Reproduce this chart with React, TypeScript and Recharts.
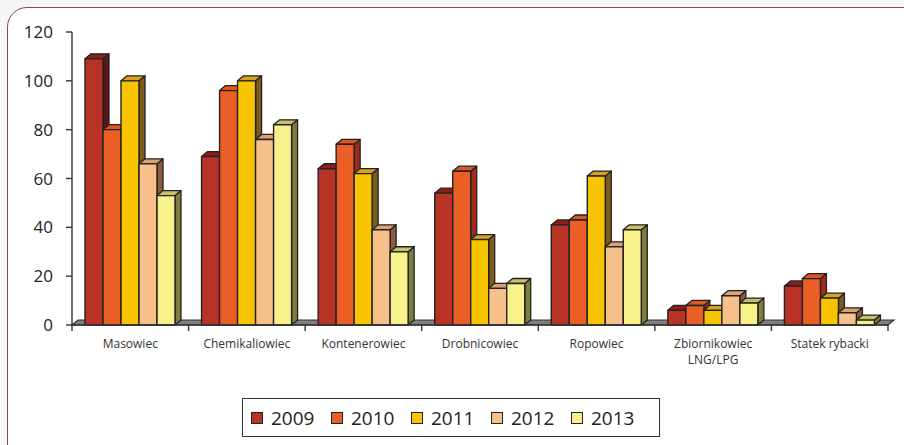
import React from 'react';
import { BarChart, Bar, XAxis, YAxis, ReferenceArea } from 'recharts';

// Ship categories (line breaks mark wrapped labels)
const CATEGORIES = [
  'Masowiec',
  'Chemikaliowiec',
  'Kontenerowiec',
  'Drobnicowiec',
  'Ropowiec',
  'Zbiornikowiec\nLNG/LPG',
  'Statek rybacki',
];

// Values per year
const Y2009 = [109, 69, 64, 54, 41, 6, 16];
const Y2010 = [80, 96, 74, 63, 43, 8, 19];
const Y2011 = [100, 100, 62, 35, 61, 6, 11];
const Y2012 = [66, 76, 39, 15, 32, 12, 5];
const Y2013 = [53, 82, 30, 17, 39, 9, 2];

const YEARS = ['2009', '2010', '2011', '2012', '2013'];
const SERIES = [Y2009, Y2010, Y2011, Y2012, Y2013];

const Y_TICKS = [0, 20, 40, 60, 80, 100, 120];

// Face colours of the 3D boxes: front, top, side
const FRONT = ['#b93226', '#e95f25', '#f8c300', '#f7bf89', '#f8f08a'];
const TOP = ['#8c1f18', '#e0561e', '#d9a21c', '#dea06e', '#c9c262'];
const SIDE = ['#5c1612', '#a02a18', '#7d5a1e', '#8e5c3a', '#7f7d3e'];

const data = CATEGORIES.map((name, i) => {
  const row: Record<string, string | number> = { name };
  YEARS.forEach((y, s) => {
    row[y] = SERIES[s][i];
  });
  return row;
});

const FONT = "'Open Sans', 'Noto Sans', sans-serif";
const DX = 6;
const DY = 5;
const EDGE = '#222';

function makeBox(s: number) {
  return (props: any) => {
    const { x, y, width, height } = props;
    if (width == null || height == null) return <g />;
    const x2 = x + width;
    const y2 = y + height;
    return (
      <g strokeLinejoin="round">
        <polygon
          points={`${x2},${y} ${x2 + DX},${y - DY} ${x2 + DX},${y2 - DY} ${x2},${y2}`}
          fill={SIDE[s]}
          stroke={EDGE}
          strokeWidth={1.3}
        />
        <polygon
          points={`${x},${y} ${x + DX},${y - DY} ${x2 + DX},${y - DY} ${x2},${y}`}
          fill={TOP[s]}
          stroke={EDGE}
          strokeWidth={1.3}
        />
        <rect x={x} y={y} width={width} height={height} fill={FRONT[s]} stroke={EDGE} strokeWidth={1.4} />
      </g>
    );
  };
}

function Floor(props: any) {
  const { x, y, width, height } = props;
  const y0 = y + (height || 0);
  return (
    <polygon
      points={`${x},${y0} ${x + DX},${y0 - DY} ${x + width + DX},${y0 - DY} ${x + width},${y0}`}
      fill="#7f7f7f"
      stroke="#333"
      strokeWidth={1.2}
    />
  );
}

function CategoryTick(props: any) {
  const { x, y, payload, index } = props;
  const half = payload && payload.offset > 0 ? payload.offset : (888 - 72) / 14;
  const lines = String(payload.value).split('\n');
  return (
    <g>
      <line x1={x + half} x2={x + half} y1={y} y2={y + 6} stroke="#333" strokeWidth={1.4} />
      {index === 0 && <line x1={x - half} x2={x - half} y1={y} y2={y + 6} stroke="#333" strokeWidth={1.4} />}
      <text x={x} y={y} textAnchor="middle" fill="#333" fontSize={12} fontFamily={FONT}>
        {lines.map((l, i) => (
          <tspan key={i} x={x} dy={i === 0 ? 23 : 16}>
            {l}
          </tspan>
        ))}
      </text>
    </g>
  );
}

export default function App() {
  return (
    <div
      style={{
        position: 'absolute',
        left: 0,
        top: 0,
        width: 904,
        height: 445,
        overflow: 'hidden',
        background: '#f3f5f7',
        fontFamily: FONT,
      }}
    >
      <div
        style={{
          position: 'absolute',
          left: 7,
          top: 7,
          width: 920,
          height: 460,
          border: '1.5px solid #8a4a48',
          borderRadius: 20,
          background: '#fff',
        }}
      />
      <div style={{ position: 'absolute', left: 0, top: 0 }}>
        <BarChart
          width={904}
          height={445}
          data={data}
          margin={{ top: 32, right: 16, bottom: 0, left: 0 }}
          barCategoryGap={13}
          barGap={0}
        >
          <XAxis
            dataKey="name"
            height={120}
            axisLine={{ stroke: '#333', strokeWidth: 1.4 }}
            tickLine={false}
            tickSize={0}
            tickMargin={0}
            interval={0}
            tick={<CategoryTick />}
          />
          <YAxis
            width={72}
            domain={[0, 120]}
            ticks={Y_TICKS}
            interval={0}
            axisLine={{ stroke: '#333', strokeWidth: 1.4 }}
            tickLine={{ stroke: '#333', strokeWidth: 1.4 }}
            tickSize={6}
            tickMargin={13}
            tick={{ fill: '#222', fontSize: 17, fontFamily: FONT }}
          />
          <ReferenceArea y1={0} y2={0} shape={<Floor />} ifOverflow="visible" fill="none" stroke="none" />
          {YEARS.map((y, s) => (
            <Bar key={y} dataKey={y} name={y} fill={FRONT[s]} shape={makeBox(s)} isAnimationActive={false} />
          ))}
        </BarChart>
      </div>
      <div
        style={{
          position: 'absolute',
          left: 242,
          top: 398,
          width: 408,
          height: 37,
          border: '1.5px solid #333',
          background: '#fff',
          display: 'flex',
          alignItems: 'center',
          paddingLeft: 8,
          boxSizing: 'content-box',
        }}
      >
        {YEARS.map((y, s) => (
          <div key={y} style={{ display: 'flex', alignItems: 'center', width: 80 }}>
            <span
              style={{
                display: 'inline-block',
                width: 10,
                height: 10,
                background: FRONT[s],
                border: '1.5px solid #222',
                marginRight: 8,
              }}
            />
            <span style={{ fontSize: 19, color: '#222', lineHeight: '20px' }}>{y}</span>
          </div>
        ))}
      </div>
    </div>
  );
}
